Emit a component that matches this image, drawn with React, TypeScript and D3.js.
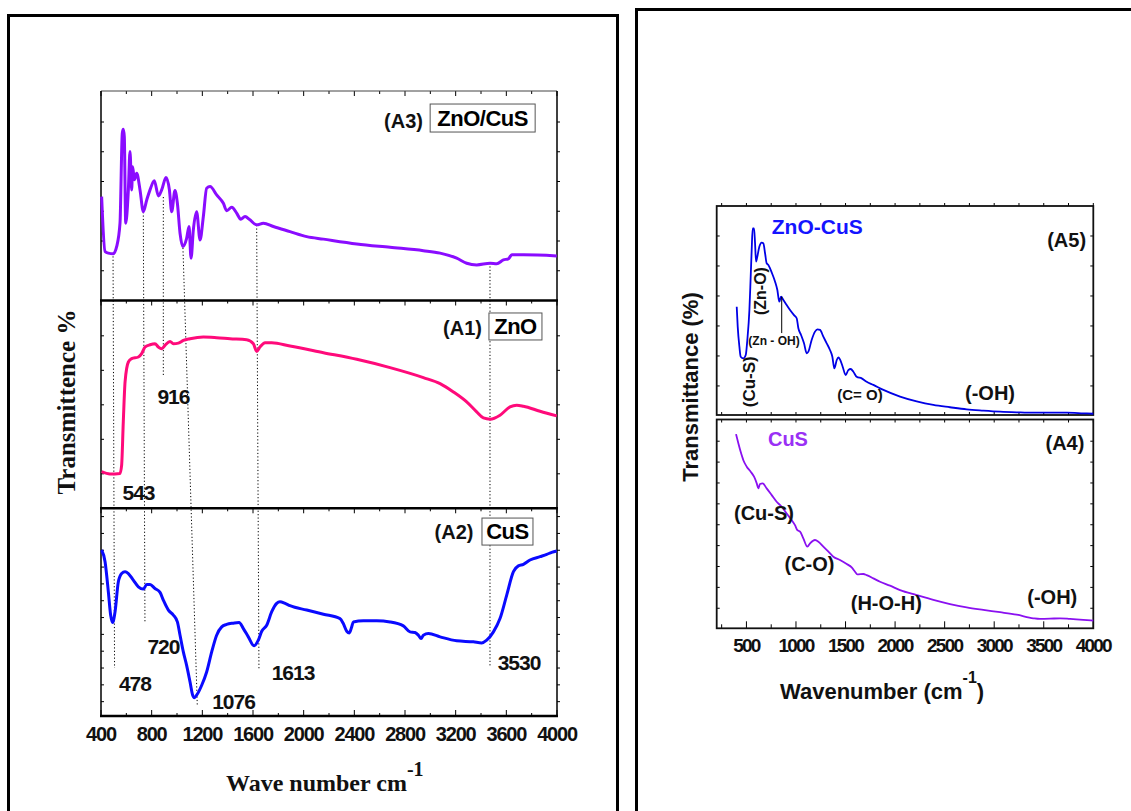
import React from 'react';
import * as d3 from 'd3';

// ---------- Left figure data (wavenumber cm-1, relative transmittance 0-100 per panel) ----------
const a3Wn = [405, 432, 458, 497, 524, 550, 568, 576, 584, 595, 603, 616, 629, 642, 650, 663, 682, 708, 734, 761, 787, 821, 853, 879, 913, 940, 958, 984, 1003, 1024, 1045, 1076, 1095, 1111, 1129, 1155, 1182, 1208, 1234, 1261, 1313, 1366, 1392, 1432, 1471, 1503, 1537, 1576, 1629, 1682, 1761, 1892, 2024, 2156, 2419, 2682, 2945, 3077, 3208, 3287, 3366, 3472, 3524, 3577, 3616, 3643, 3735, 3998];
const a3T = [49.6, 23.4, 22.6, 22.3, 25.8, 36.9, 79.8, 81.7, 78.2, 36.9, 40.1, 52.8, 71.1, 52.8, 63.9, 57.6, 60.7, 52.8, 42.4, 48.0, 52.8, 57.2, 49.9, 52.8, 58.7, 52.8, 42.4, 52.5, 46.4, 32.1, 25.8, 29.7, 35.3, 20.2, 33.7, 42.4, 28.9, 40.1, 53.6, 54.4, 50.4, 46.4, 42.9, 44.5, 41.7, 38.8, 40.1, 38.5, 36.1, 36.9, 35.3, 32.9, 30.5, 29.3, 27.0, 25.4, 23.8, 22.6, 20.2, 17.8, 17.0, 17.8, 17.5, 19.4, 19.9, 21.8, 21.8, 21.3];

const a1Wn = [405, 471, 550, 563, 576, 590, 616, 642, 695, 721, 747, 787, 826, 853, 879, 905, 945, 971, 1011, 1050, 1103, 1208, 1313, 1419, 1550, 1603, 1629, 1655, 1695, 1748, 1892, 2156, 2419, 2682, 2945, 3077, 3182, 3287, 3366, 3419, 3472, 3550, 3629, 3682, 3735, 3866, 3998];
const a1T = [17.6, 16.5, 16.8, 20.8, 41.6, 60.8, 70.4, 72.0, 72.8, 74.4, 77.6, 78.7, 79.2, 77.6, 76.8, 78.4, 80.3, 79.2, 79.5, 80.8, 81.6, 82.4, 82.1, 81.6, 81.1, 79.2, 75.5, 77.6, 79.7, 79.7, 78.1, 74.9, 71.7, 67.7, 62.9, 60.0, 56.0, 51.2, 46.4, 43.5, 42.9, 44.8, 48.8, 49.6, 49.1, 46.7, 44.5];

const a2Wn = [405, 432, 458, 476, 492, 511, 537, 563, 590, 616, 655, 695, 734, 761, 787, 826, 866, 892, 932, 971, 1003, 1024, 1050, 1076, 1103, 1124, 1137, 1155, 1195, 1234, 1274, 1313, 1353, 1392, 1445, 1490, 1524, 1563, 1608, 1642, 1669, 1708, 1748, 1787, 1813, 1853, 1892, 2024, 2156, 2287, 2313, 2340, 2361, 2379, 2392, 2471, 2577, 2682, 2787, 2840, 2879, 2906, 2927, 2945, 2985, 3077, 3208, 3340, 3406, 3445, 3498, 3550, 3603, 3656, 3695, 3735, 3787, 3866, 3919, 3958, 3998];
const a2T = [79.9, 74.3, 59.8, 48.6, 45.0, 50.2, 64.6, 68.6, 69.5, 68.6, 65.4, 62.2, 61.1, 63.3, 63.3, 61.4, 59.5, 55.8, 51.0, 48.6, 45.3, 38.9, 30.9, 24.4, 16.4, 10.0, 8.8, 10.0, 14.8, 21.2, 30.9, 38.9, 42.9, 44.1, 44.7, 45.0, 42.1, 38.1, 33.8, 36.5, 40.8, 43.7, 50.2, 54.2, 55.0, 54.2, 53.1, 51.0, 49.0, 46.9, 44.5, 40.8, 40.0, 42.9, 45.3, 45.8, 45.8, 45.3, 43.4, 40.5, 40.2, 38.9, 37.3, 38.9, 39.7, 38.1, 36.2, 35.7, 35.2, 36.5, 40.5, 46.9, 58.2, 69.5, 72.3, 73.0, 75.1, 76.7, 77.8, 78.8, 79.4];

// ---------- Right figure data ----------
const a5Wn = [402, 412, 429, 442, 469, 493, 509, 530, 543, 553, 563, 577, 587, 597, 610, 630, 654, 671, 688, 704, 721, 738, 765, 789, 812, 832, 849, 873, 906, 940, 980, 1007, 1024, 1051, 1081, 1108, 1125, 1158, 1192, 1216, 1243, 1276, 1310, 1343, 1367, 1387, 1411, 1428, 1444, 1471, 1502, 1528, 1552, 1579, 1612, 1663, 1713, 1781, 1882, 2050, 2218, 2386, 2554, 2722, 2890, 3059, 3227, 3395, 3563, 3731, 3899, 4000];
const a5T = [51.8, 42.3, 32.7, 27.9, 27.1, 28.7, 35.9, 50.2, 66.2, 78.9, 89.3, 89.3, 82.1, 73.4, 75.8, 80.5, 82.5, 82.1, 77.4, 72.6, 71.8, 70.2, 67.0, 63.8, 59.8, 54.2, 56.6, 55.0, 52.6, 50.2, 47.8, 46.3, 41.5, 38.3, 34.3, 29.5, 30.3, 35.9, 39.9, 41.0, 40.7, 37.5, 34.3, 31.1, 27.9, 22.3, 26.3, 27.6, 26.6, 23.1, 19.1, 21.5, 22.0, 20.7, 18.3, 17.5, 15.9, 14.4, 12.0, 8.8, 6.5, 4.8, 3.7, 2.7, 2.1, 1.6, 1.3, 1.1, 1.1, 1.1, 0.8, 0.6];

const a4Wn = [395, 419, 442, 469, 503, 543, 577, 604, 620, 637, 664, 704, 755, 805, 856, 906, 957, 990, 1014, 1041, 1074, 1115, 1142, 1192, 1226, 1276, 1327, 1377, 1444, 1512, 1562, 1596, 1619, 1680, 1713, 1781, 1848, 1949, 2050, 2218, 2386, 2554, 2722, 2890, 3059, 3227, 3395, 3462, 3563, 3664, 3765, 3899, 4000];
const a4T = [93.0, 88.5, 84.5, 80.5, 77.4, 75.0, 72.6, 69.4, 67.0, 69.1, 69.4, 67.0, 63.8, 60.6, 58.2, 55.0, 51.8, 49.4, 47.0, 46.3, 43.1, 39.1, 40.7, 42.3, 41.5, 39.1, 36.7, 34.3, 32.7, 30.8, 29.2, 27.1, 25.8, 26.0, 25.5, 23.9, 22.3, 20.4, 18.3, 15.9, 13.6, 11.6, 10.0, 8.8, 7.7, 6.5, 4.8, 4.5, 4.6, 4.8, 4.5, 4.0, 3.7];

// ---------- Ticks / labels ----------
const leftMajorTicks = [400, 800, 1200, 1600, 2000, 2400, 2800, 3200, 3600, 4000];
const leftTickLabels = ['400', '800', '1200', '1600', '2000', '2400', '2800', '3200', '3600', '4000'];
const leftMinorTicks = [600, 1000, 1400, 1800, 2200, 2600, 3000, 3400, 3800];
const a3YTicks = [14.2, 28.4, 42.6, 56.8, 71.0, 85.2];
const a1YTicks = [16.6, 33.2, 49.8, 66.4, 83.0];
const a2YTicks = [6.9, 15.0, 23.1, 31.2, 39.3, 47.4, 55.5, 63.6, 71.7, 79.8, 87.9, 96.0];

const rightMajorTicks = [500, 1000, 1500, 2000, 2500, 3000, 3500, 4000];
const rightTickLabels = ['500', '1000', '1500', '2000', '2500', '3000', '3500', '4000'];
const rightMinorTicks = [250, 750, 1250, 1750, 2250, 2750, 3250, 3750];
const a5YTicks = [13.9, 28.25, 42.6, 56.95, 71.3, 85.65];
const a4YTicks = [9.6, 19.6, 29.6, 39.6, 49.6, 59.6, 69.6, 79.6, 89.6];

// dotted guide lines in the left figure
const guideWnTop = [495, 734, 892, 1047, 1629, 3471];
const guideValTop = [22.7, 42.2, 49.4, 25.1, 36.0, 17.9];
const guidePanelBottom = ['A2', 'A2', 'A1', 'A2', 'A2', 'A2'];
const guideWnBottom = [507, 747, 892, 1160, 1647, 3471];
const guideValBottom = [23.1, 44.8, 63.2, 5.3, 22.1, 23.6];

const peakLabels = ['543', '916', '478', '720', '1076', '1613', '3530'];
const peakLabelWn = [696, 972, 668, 893, 1446, 1916, 3700];
const peakLabelVal = [7.4, 53.6, 15.9, 33.7, 7.2, 21.2, 26.0];
const peakLabelPanel = ['A1', 'A1', 'A2', 'A2', 'A2', 'A2', 'A2'];

export default function App() {
  const xL = d3.scaleLinear().domain([400, 4000]).range([101, 557]);
  const yL: Record<string, d3.ScaleLinear<number, number>> = {
    A3: d3.scaleLinear().domain([0, 100]).range([300.5, 91]),
    A1: d3.scaleLinear().domain([0, 100]).range([508.3, 300.5]),
    A2: d3.scaleLinear().domain([0, 100]).range([716, 508.3]),
  };
  const xR = d3.scaleLinear().domain([200, 4000]).range([716.7, 1093.3]);
  const yA5 = d3.scaleLinear().domain([0, 100]).range([415, 206]);
  const yA4 = d3.scaleLinear().domain([0, 100]).range([628.3, 419.5]);

  const mkLine = (wn: number[], t: number[], xs: any, ys: any) =>
    d3.line<number>()
      .x((_, i) => xs(wn[i]))
      .y((d) => ys(d))
      .curve(d3.curveMonotoneX)(t) || '';

  const sans = "'Liberation Sans', Arial, sans-serif";
  const serif = "'Liberation Serif', 'Times New Roman', serif";
  const purple = '#8a0cff';
  const pink = '#ff0a7a';
  const blue = '#0a0aff';

  const leftPanels = [
    { id: 'A3', ticks: a3YTicks },
    { id: 'A1', ticks: a1YTicks },
    { id: 'A2', ticks: a2YTicks },
  ];

  const allLeftX = [...leftMajorTicks, ...leftMinorTicks];
  const allRightX = [...rightMajorTicks, ...rightMinorTicks];

  return (
    <svg width={1131} height={811} style={{ position: 'absolute', left: 0, top: 0, background: '#fff' }}>
      {/* outer frames */}
      <rect x={8.5} y={15.5} width={609} height={820} fill="none" stroke="#000" strokeWidth={3} />
      <rect x={636.5} y={9.5} width={520} height={820} fill="none" stroke="#000" strokeWidth={3} />

      {/* ---------------- LEFT FIGURE ---------------- */}
      {leftPanels.map((p) => {
        const ys = yL[p.id];
        const top = ys(100);
        return (
          <g key={p.id}>
            {p.ticks.map((t, i) => (
              <g key={i}>
                <line x1={xL(400)} x2={xL(400) + 3} y1={ys(t)} y2={ys(t)} stroke="#000" strokeWidth={1} />
                <line x1={xL(4000)} x2={xL(4000) + 3} y1={ys(t)} y2={ys(t)} stroke="#000" strokeWidth={1} />
              </g>
            ))}
            {allLeftX.map((v, i) => (
              <line key={'t' + i} x1={xL(v)} x2={xL(v)} y1={top} y2={top + (leftMajorTicks.includes(v) ? 5 : 3)} stroke="#000" strokeWidth={1} />
            ))}
          </g>
        );
      })}
      {/* bottom axis ticks */}
      {allLeftX.map((v, i) => (
        <line key={'b' + i} x1={xL(v)} x2={xL(v)} y1={yL.A2(0)} y2={yL.A2(0) - (leftMajorTicks.includes(v) ? 6 : 3)} stroke="#000" strokeWidth={1} />
      ))}
      {/* frame lines */}
      <line x1={xL(400)} x2={xL(4000)} y1={yL.A3(100)} y2={yL.A3(100)} stroke="#444" strokeWidth={1} />
      <line x1={xL(400)} x2={xL(400)} y1={yL.A3(100)} y2={yL.A2(0)} stroke="#000" strokeWidth={1.5} />
      <line x1={xL(4000)} x2={xL(4000)} y1={yL.A3(100)} y2={yL.A2(0)} stroke="#000" strokeWidth={1.5} />
      <line x1={xL(400) - 1} x2={xL(4000) + 1} y1={yL.A3(0)} y2={yL.A3(0)} stroke="#000" strokeWidth={2.5} />
      <line x1={xL(400) - 1} x2={xL(4000) + 1} y1={yL.A1(0)} y2={yL.A1(0)} stroke="#000" strokeWidth={2.5} />
      <line x1={xL(400) - 1} x2={xL(4000) + 1} y1={yL.A2(0)} y2={yL.A2(0)} stroke="#000" strokeWidth={2.5} />

      {/* dotted guide lines */}
      {guideWnTop.map((w, i) => (
        <line key={'g' + i} x1={xL(w)} y1={yL.A3(guideValTop[i])} x2={xL(guideWnBottom[i])} y2={yL[guidePanelBottom[i]](guideValBottom[i])}
          stroke="#000" strokeWidth={1} strokeDasharray="1.2 2.2" />
      ))}

      {/* curves */}
      <path d={mkLine(a3Wn, a3T, xL, yL.A3)} fill="none" stroke={purple} strokeWidth={3} strokeLinejoin="round" />
      <path d={mkLine(a1Wn, a1T, xL, yL.A1)} fill="none" stroke={pink} strokeWidth={3} strokeLinejoin="round" />
      <path d={mkLine(a2Wn, a2T, xL, yL.A2)} fill="none" stroke={blue} strokeWidth={3} strokeLinejoin="round" />

      {/* peak labels */}
      {peakLabels.map((l, i) => (
        <text key={'p' + i} x={xL(peakLabelWn[i])} y={yL[peakLabelPanel[i]](peakLabelVal[i])} dy="0.36em" textAnchor="middle"
          fontFamily={sans} fontWeight="bold" fontSize={21} letterSpacing={-1} fill="#111">{l}</text>
      ))}

      {/* panel labels */}
      <text x={xL(2788)} y={yL.A3(85.6)} dy="0.36em" textAnchor="middle" fontFamily={sans} fontWeight="bold" fontSize={20} fill="#111">(A3)</text>
      <rect x={xL(3413) - 52.5} y={yL.A3(87.1) - 14} width={105} height={28} fill="#fff" stroke="#555" strokeWidth={1} />
      <text x={xL(3413)} y={yL.A3(87.1)} dy="0.36em" textAnchor="middle" fontFamily={sans} fontWeight="bold" fontSize={22} letterSpacing={-0.5} fill="#000">ZnO/CuS</text>

      <text x={xL(3254)} y={yL.A1(86.7)} dy="0.36em" textAnchor="middle" fontFamily={sans} fontWeight="bold" fontSize={20} fill="#111">(A1)</text>
      <rect x={xL(3672) - 26.5} y={yL.A1(87.5) - 13.5} width={53} height={27} fill="#fff" stroke="#555" strokeWidth={1} />
      <text x={xL(3672)} y={yL.A1(87.5)} dy="0.36em" textAnchor="middle" fontFamily={sans} fontWeight="bold" fontSize={22} letterSpacing={-0.5} fill="#000">ZnO</text>

      <text x={xL(3187)} y={yL.A2(88.6)} dy="0.36em" textAnchor="middle" fontFamily={sans} fontWeight="bold" fontSize={20} fill="#111">(A2)</text>
      <rect x={xL(3609) - 25.5} y={yL.A2(88.8) - 13.5} width={51} height={27} fill="#fff" stroke="#555" strokeWidth={1} />
      <text x={xL(3609)} y={yL.A2(88.8)} dy="0.36em" textAnchor="middle" fontFamily={sans} fontWeight="bold" fontSize={22} letterSpacing={-0.5} fill="#000">CuS</text>

      {/* x tick labels */}
      {leftMajorTicks.map((v, i) => (
        <text key={'xl' + i} x={xL(v)} y={741} textAnchor="middle" fontFamily={sans} fontWeight="bold" fontSize={20} letterSpacing={-1.2} fill="#111">{leftTickLabels[i]}</text>
      ))}

      {/* axis titles */}
      <text x={226} y={791} fontFamily={serif} fontWeight="bold" fontSize={24} fill="#111">
        Wave number cm<tspan fontSize={20} dy={-15}>-1</tspan>
      </text>
      <text transform="translate(75,402) rotate(-90)" textAnchor="middle" fontFamily={serif} fontWeight="bold" fontSize={25} fill="#111">Transmittence %</text>

      {/* ---------------- RIGHT FIGURE ---------------- */}
      {a5YTicks.map((t, i) => (
        <g key={'r5' + i}>
          <line x1={xR(200)} x2={xR(200) + 3} y1={yA5(t)} y2={yA5(t)} stroke="#000" strokeWidth={1} />
          <line x1={xR(4000)} x2={xR(4000) - 3} y1={yA5(t)} y2={yA5(t)} stroke="#000" strokeWidth={1} />
        </g>
      ))}
      {a4YTicks.map((t, i) => (
        <g key={'r4' + i}>
          <line x1={xR(200)} x2={xR(200) + 3} y1={yA4(t)} y2={yA4(t)} stroke="#000" strokeWidth={1} />
          <line x1={xR(4000)} x2={xR(4000) - 3} y1={yA4(t)} y2={yA4(t)} stroke="#000" strokeWidth={1} />
        </g>
      ))}
      {allRightX.map((v, i) => (
        <g key={'rx' + i}>
          <line x1={xR(v)} x2={xR(v)} y1={yA5(100)} y2={yA5(100) - 3} stroke="#000" strokeWidth={1} />
          <line x1={xR(v)} x2={xR(v)} y1={yA5(0)} y2={yA5(0) - 3} stroke="#000" strokeWidth={1} />
          <line x1={xR(v)} x2={xR(v)} y1={yA4(100)} y2={yA4(100) + 3} stroke="#000" strokeWidth={1} />
          <line x1={xR(v)} x2={xR(v)} y1={yA4(0)} y2={yA4(0) - (rightMajorTicks.includes(v) ? 7 : 4)} stroke="#000" strokeWidth={1} />
        </g>
      ))}
      <rect x={xR(200)} y={yA5(100)} width={xR(4000) - xR(200)} height={yA5(0) - yA5(100)} fill="none" stroke="#111" strokeWidth={1.8} />
      <rect x={xR(200)} y={yA4(100)} width={xR(4000) - xR(200)} height={yA4(0) - yA4(100)} fill="none" stroke="#111" strokeWidth={1.8} />

      <path d={mkLine(a5Wn, a5T, xR, yA5)} fill="none" stroke="#0000e6" strokeWidth={1.8} strokeLinejoin="round" />
      <path d={mkLine(a4Wn, a4T, xR, yA4)} fill="none" stroke="#8a10f0" strokeWidth={1.8} strokeLinejoin="round" />

      {/* A5 annotations */}
      <text x={xR(1215)} y={yA5(90.4)} dy="0.36em" textAnchor="middle" fontFamily={sans} fontWeight="bold" fontSize={21} fill="#1414ff">ZnO-CuS</text>
      <text x={xR(3731)} y={yA5(83.7)} dy="0.36em" textAnchor="middle" fontFamily={sans} fontWeight="bold" fontSize={20} fill="#111">(A5)</text>
      <text transform={`translate(${xR(637)},${yA5(59.3)}) rotate(-90)`} dy="0.36em" textAnchor="middle" fontFamily={sans} fontWeight="bold" fontSize={16} fill="#111">(Zn-O)</text>
      <text transform={`translate(${xR(526)},${yA5(15.9)}) rotate(-90)`} dy="0.36em" textAnchor="middle" fontFamily={sans} fontWeight="bold" fontSize={17} fill="#111">(Cu-S)</text>
      <text x={xR(778)} y={yA5(35.4)} dy="0.36em" textAnchor="middle" fontFamily={sans} fontWeight="bold" fontSize={12} fill="#111">(Zn - OH)</text>
      <line x1={xR(856)} x2={xR(856)} y1={yA5(56.6)} y2={yA5(39.2)} stroke="#000" strokeWidth={1} />
      <text x={xR(1646)} y={yA5(9.6)} dy="0.36em" textAnchor="middle" fontFamily={sans} fontWeight="bold" fontSize={15} fill="#111">(C= O)</text>
      <text x={xR(2958)} y={yA5(10.7)} dy="0.36em" textAnchor="middle" fontFamily={sans} fontWeight="bold" fontSize={20} fill="#111">(-OH)</text>

      {/* A4 annotations */}
      <text x={xR(919)} y={yA4(90.7)} dy="0.36em" textAnchor="middle" fontFamily={sans} fontWeight="bold" fontSize={20} fill="#9a30f5">CuS</text>
      <text x={xR(3714)} y={yA4(88.7)} dy="0.36em" textAnchor="middle" fontFamily={sans} fontWeight="bold" fontSize={20} fill="#111">(A4)</text>
      <text x={xR(677)} y={yA4(55.2)} dy="0.36em" textAnchor="middle" fontFamily={sans} fontWeight="bold" fontSize={20} fill="#111">(Cu-S)</text>
      <text x={xR(1136)} y={yA4(30.8)} dy="0.36em" textAnchor="middle" fontFamily={sans} fontWeight="bold" fontSize={20} fill="#111">(C-O)</text>
      <text x={xR(1911)} y={yA4(12.3)} dy="0.36em" textAnchor="middle" fontFamily={sans} fontWeight="bold" fontSize={20} fill="#111">(H-O-H)</text>
      <text x={xR(3586)} y={yA4(15.1)} dy="0.36em" textAnchor="middle" fontFamily={sans} fontWeight="bold" fontSize={20} fill="#111">(-OH)</text>

      {rightMajorTicks.map((v, i) => (
        <text key={'xr' + i} x={xR(v)} y={652} textAnchor="middle" fontFamily={sans} fontWeight="bold" fontSize={19} letterSpacing={-1.8} fill="#111">{rightTickLabels[i]}</text>
      ))}
      <text x={780} y={699} fontFamily={sans} fontWeight="bold" fontSize={22} fill="#111">
        Wavenumber (cm<tspan fontSize={16} dy={-16}>-1</tspan><tspan dy={16}>)</tspan>
      </text>
      <text transform="translate(698,387) rotate(-90)" textAnchor="middle" fontFamily={sans} fontWeight="bold" fontSize={22} fill="#111">Transmittance (%)</text>
    </svg>
  );
}
